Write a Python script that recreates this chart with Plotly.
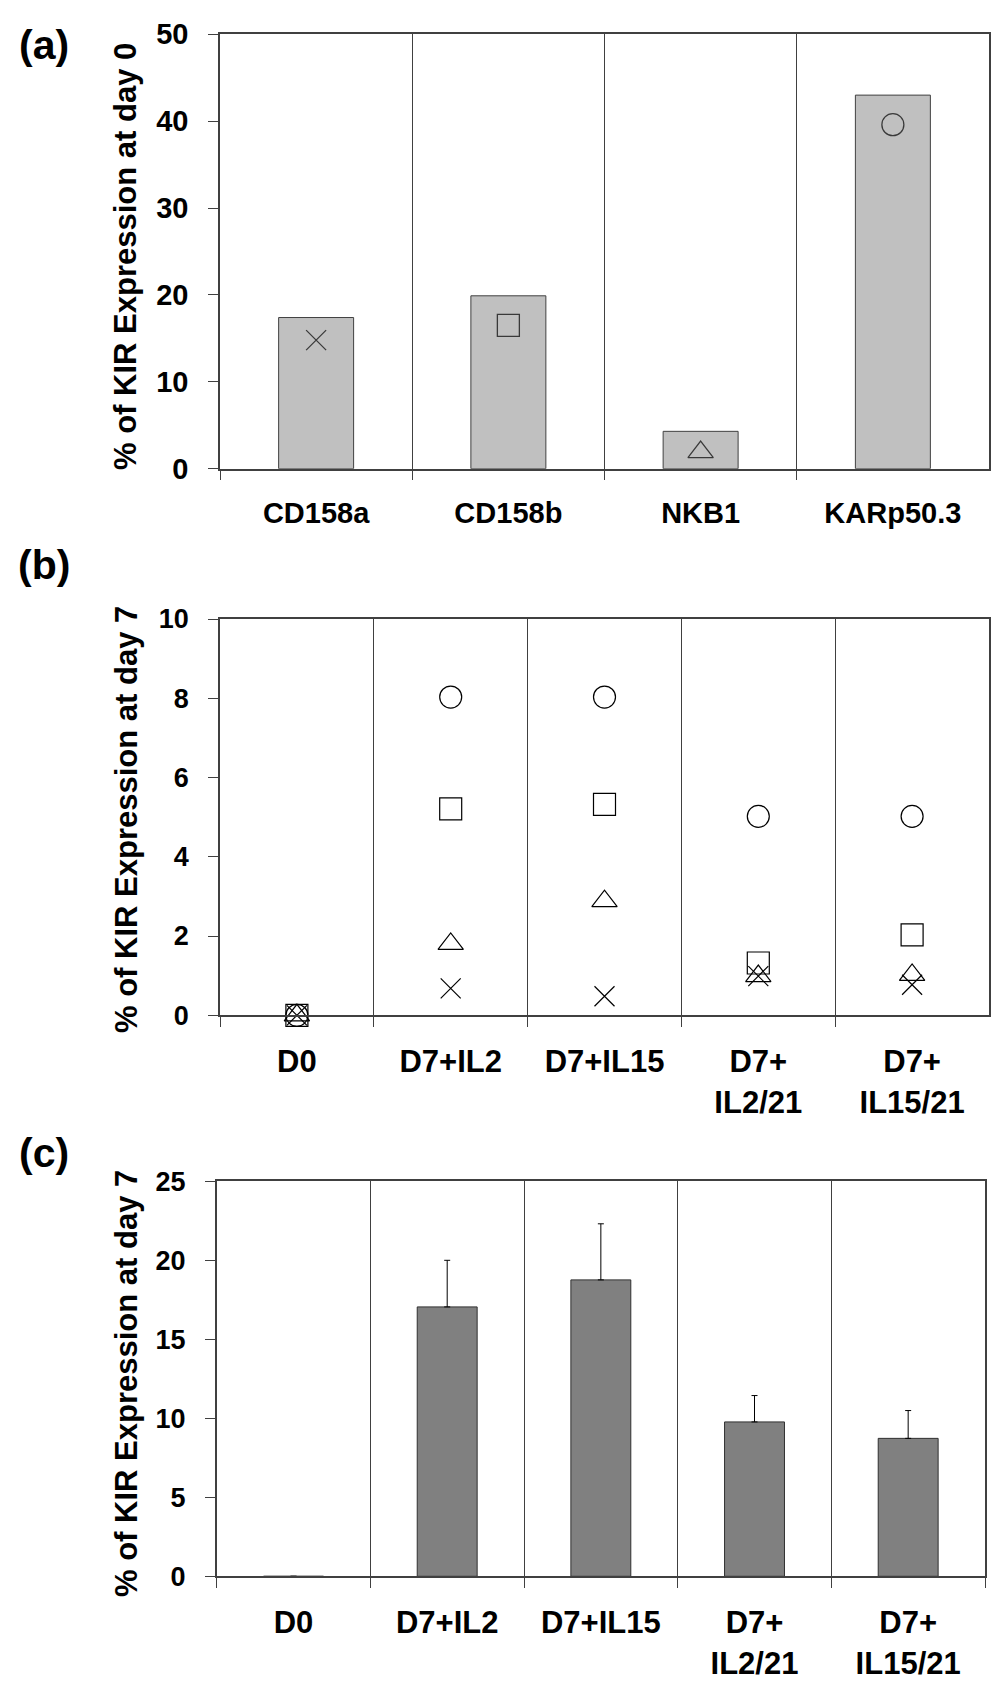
import plotly.graph_objects as go

# panel (a): % of KIR expression at day 0 (bars) and the single KIR values (symbols)
kir_names = ['CD158a', 'CD158b', 'NKB1', 'KARp50.3']
day0_bar = [17.4, 19.9, 4.3, 43.0]
day0_point = [14.8, 16.5, 1.9, 39.6]

# panel (b): each KIR at day 7 per culture condition
conditions = ['D0', 'D7+IL2', 'D7+IL15', 'D7+<br>IL2/21', 'D7+<br>IL15/21']
day7_cd158a = [0, 0.68, 0.48, 0.99, 0.77]
day7_cd158b = [0, 5.21, 5.32, 1.32, 2.03]
day7_nkb1 = [0, 1.80, 2.88, 0.99, 1.02]
day7_karp = [0, 8.03, 8.03, 5.02, 5.02]

# panel (c): total KIR at day 7, mean and upper error
day7_total = [0, 17.05, 18.76, 9.77, 8.73]
day7_total_err = [0, 2.95, 3.55, 1.67, 1.76]

# symbol for every KIR (same in panel a and b)
symbols = {'CD158a': 'x-thin-open', 'CD158b': 'square-open',
           'NKB1': 'triangle-up-open', 'KARp50.3': 'circle-open'}
sizes = {'CD158a': 20, 'CD158b': 22, 'NKB1': 22, 'KARp50.3': 22}

# the page body has an 8px margin, so the figure is a bit smaller than the window
OFF = 8
W, H = 1004 - 2 * OFF, 1693 - 2 * OFF
FONT = 'Liberation Sans, Arial, sans-serif'
AXC = '#404040'


def px_x(v):
    # page pixel -> paper fraction
    return (v - OFF) / W


def px_y(v):
    return 1 - (v - OFF) / H


fig = go.Figure()

# ---- panel (a)
fig.add_trace(go.Bar(
    x=kir_names, y=day0_bar,
    marker=dict(color='#c0c0c0', line=dict(color=AXC, width=1)),
    xaxis='x', yaxis='y'
))
fig.add_trace(go.Scatter(
    x=kir_names, y=day0_point, mode='markers',
    marker=dict(symbol=[symbols[k] for k in kir_names],
                size=[sizes[k] for k in kir_names],
                color='black', line=dict(color='black', width=1.3)),
    cliponaxis=False, xaxis='x', yaxis='y'
))

# ---- panel (b)
for name, vals in zip(kir_names, [day7_cd158a, day7_cd158b, day7_nkb1, day7_karp]):
    fig.add_trace(go.Scatter(
        x=conditions, y=vals, mode='markers', name=name,
        marker=dict(symbol=symbols[name], size=sizes[name],
                    color='black', line=dict(color='black', width=1.2)),
        cliponaxis=False, xaxis='x2', yaxis='y2'
    ))

# ---- panel (c)
fig.add_trace(go.Bar(
    x=conditions, y=day7_total,
    marker=dict(color='#808080', line=dict(color='#303030', width=1)),
    error_y=dict(type='data', array=day7_total_err, arrayminus=[0] * len(day7_total_err),
                 symmetric=False, color='black', thickness=1, width=3),
    xaxis='x3', yaxis='y3'
))


def tick_font(size):
    return dict(family=FONT, size=size, color='black', weight='bold')


def x_axis(size):
    return dict(
        type='category', tickson='boundaries', automargin=False,
        showgrid=True, gridcolor=AXC, gridwidth=1,
        showline=True, linecolor=AXC, linewidth=1.5, mirror=True,
        ticks='outside', ticklen=10, tickcolor=AXC, tickwidth=1,
        tickfont=tick_font(size), ticklabelstandoff=18, zeroline=False
    )


def y_axis(size):
    return dict(
        automargin=False,
        showgrid=False, showline=True, linecolor=AXC, linewidth=1.5, mirror=True,
        ticks='outside', ticklen=10, tickcolor=AXC, tickwidth=1,
        tickfont=tick_font(size), ticklabelstandoff=14, zeroline=False
    )


fig.update_layout(
    width=W, height=H,
    margin=dict(l=0, r=0, t=0, b=0),
    paper_bgcolor='white', plot_bgcolor='white',
    showlegend=False, bargap=0.61,
    font=dict(family=FONT, color='black'),
    xaxis=dict(x_axis(29), domain=[px_x(220), px_x(989)], anchor='y', range=[-0.5, 3.5]),
    yaxis=dict(y_axis(29), domain=[px_y(468.7), px_y(34.3)], anchor='x', range=[0, 50], dtick=10),
    xaxis2=dict(x_axis(31), domain=[px_x(220), px_x(989)], anchor='y2', range=[-0.5, 4.5]),
    yaxis2=dict(y_axis(27), domain=[px_y(1015.3), px_y(619)], anchor='x2', range=[0, 10], dtick=2),
    xaxis3=dict(x_axis(31), domain=[px_x(216.7), px_x(985)], anchor='y3', range=[-0.5, 4.5]),
    yaxis3=dict(y_axis(27), domain=[px_y(1576.3), px_y(1181.3)], anchor='x3', range=[0, 25], dtick=5),
)

# panel letters and y titles
annots = []
for letter, yc in [('(a)', 45), ('(b)', 565), ('(c)', 1153)]:
    annots.append(dict(text=letter, x=px_x(44), y=px_y(yc), xref='paper', yref='paper',
                       xanchor='center', yanchor='middle', showarrow=False,
                       font=dict(family=FONT, size=41, color='black', weight='bold')))
for title, yc in [('% of KIR Expression at day 0', 257),
                  ('% of KIR Expression at day 7', 820),
                  ('% of KIR Expression at day 7', 1384)]:
    annots.append(dict(text=title, x=px_x(126), y=px_y(yc), xref='paper', yref='paper',
                       xanchor='center', yanchor='middle', showarrow=False, textangle=-90,
                       font=dict(family=FONT, size=31, color='black', weight='bold')))
fig.update_layout(annotations=annots)

fig.write_html('out.html')
